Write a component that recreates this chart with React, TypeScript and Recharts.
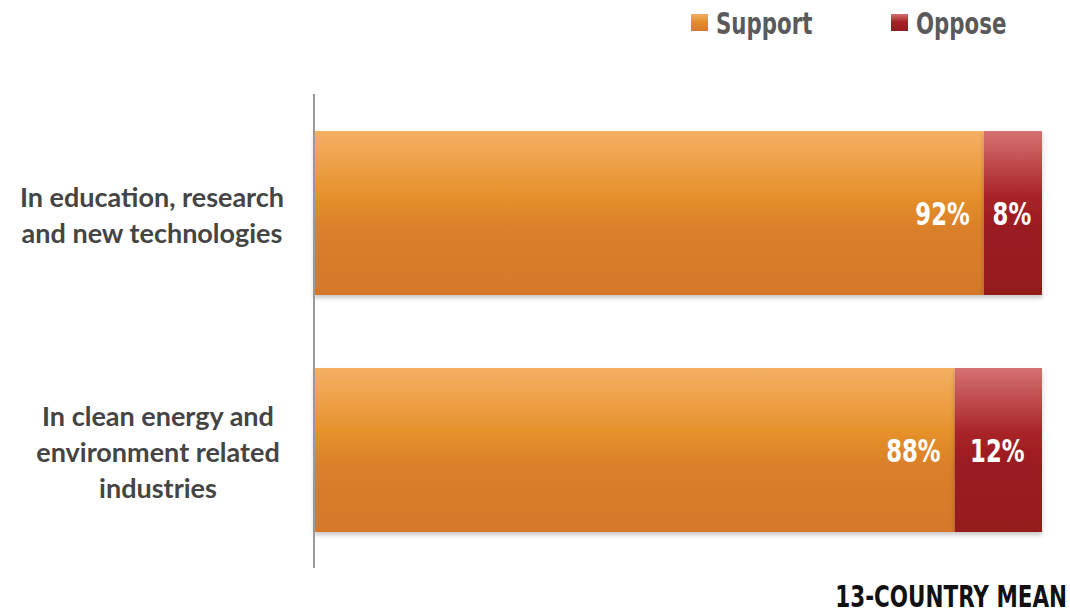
import { Bar, BarChart, LabelList, XAxis, YAxis } from "recharts";

const categories = [
  ["In education, research", "and new technologies"],
  ["In clean energy and", "environment related", "industries"],
];
const support = [92, 88];
const oppose = [8, 12];
const seriesNames = ["Support", "Oppose"];

const data = categories.map((lines, i) => ({
  name: lines.join("\n"),
  support: support[i],
  oppose: oppose[i],
}));

const narrow = "'DejaVu Sans Condensed', 'DejaVu Sans', sans-serif";

const CategoryTick = (props: any) => {
  const { y, payload, index } = props;
  const lines: string[] = String(payload.value).split("\n");
  const lh = 36;
  const startY = y - ((lines.length - 1) * lh) / 2 + 12;
  const cx = index === 0 ? 152 : 158;
  return (
    <text textAnchor="middle" fill="#454545" fontFamily="Lato" fontWeight={700} fontSize={27}>
      {lines.map((l, i) => (
        <tspan key={i} x={cx} y={startY + i * lh}>
          {l}
        </tspan>
      ))}
    </text>
  );
};

const SquashText = ({ x, y, anchor, sx, children, ...rest }: any) => (
  <g transform={`translate(${x},${y}) scale(${sx},1)`}>
    <text x={0} y={0} textAnchor={anchor} {...rest}>
      {children}
    </text>
  </g>
);

const SupportLabel = (props: any) => {
  const { x, y, width, height, value } = props;
  return (
    <SquashText x={x + width - 14} y={y + height / 2 + 12} anchor="end" sx={0.79} fill="#fff" fontFamily={narrow} fontWeight={700} fontSize={32}>
      {value}%
    </SquashText>
  );
};

const OpposeLabel = (props: any) => {
  const { x, y, width, height, value } = props;
  return (
    <SquashText x={x + width / 2 - 1} y={y + height / 2 + 12} anchor="middle" sx={0.79} fill="#fff" fontFamily={narrow} fontWeight={700} fontSize={32}>
      {value}%
    </SquashText>
  );
};

const legendX = [690, 890];

const TopLegend = () => (
  <svg width={1070} height={60} style={{ position: "absolute", left: 0, top: 0 }}>
    <defs>
      <linearGradient id="gSupportL" x1="0" y1="0" x2="0" y2="1">
        <stop offset="0" stopColor="#F4AE62" />
        <stop offset="0.45" stopColor="#E38E2A" />
        <stop offset="1" stopColor="#D67A2A" />
      </linearGradient>
      <linearGradient id="gOpposeL" x1="0" y1="0" x2="0" y2="1">
        <stop offset="0" stopColor="#D57070" />
        <stop offset="0.45" stopColor="#A82226" />
        <stop offset="1" stopColor="#951A1F" />
      </linearGradient>
    </defs>
    {seriesNames.map((name, i) => (
      <g key={name}>
        <rect x={legendX[i] + 1} y={14} width={17} height={17} fill={i === 0 ? "url(#gSupportL)" : "url(#gOpposeL)"} />
        <SquashText x={legendX[i] + 26} y={34} anchor="start" sx={0.79} fill="#5a5a5a" fontFamily={narrow} fontWeight={700} fontSize={30}>
          {name}
        </SquashText>
      </g>
    ))}
  </svg>
);

export default function App() {
  return (
    <div style={{ position: "absolute", left: 0, top: 0, width: 1070, height: 611, background: "#fff" }}>
      <BarChart
        width={1070}
        height={611}
        data={data}
        layout="vertical"
        margin={{ top: 94, right: 28, bottom: 43, left: 0 }}
        barSize={164}
      >
        <defs>
          <linearGradient id="gSupport" x1="0" y1="0" x2="0" y2="1">
            <stop offset="0" stopColor="#F5B064" />
            <stop offset="0.4" stopColor="#E5902A" />
            <stop offset="0.6" stopColor="#DA7F2A" />
            <stop offset="1" stopColor="#D6782A" />
          </linearGradient>
          <linearGradient id="gOppose" x1="0" y1="0" x2="0" y2="1">
            <stop offset="0" stopColor="#D67272" />
            <stop offset="0.4" stopColor="#A82327" />
            <stop offset="0.6" stopColor="#991B20" />
            <stop offset="1" stopColor="#951A1F" />
          </linearGradient>
          <filter id="shadow" x="-5%" y="-5%" width="110%" height="120%">
            <feDropShadow dx="0" dy="3" stdDeviation="2" floodColor="#000" floodOpacity="0.22" />
          </filter>
        </defs>
        <XAxis type="number" domain={[0, 100]} hide />
        <YAxis
          type="category"
          dataKey="name"
          width={314}
          tickLine={false}
          axisLine={{ stroke: "#9a9a9a", strokeWidth: 2 }}
          tick={<CategoryTick />}
          interval={0}
        />
        <Bar dataKey="support" stackId="a" fill="url(#gSupport)" isAnimationActive={false} style={{ filter: "url(#shadow)" }}>
          <LabelList dataKey="support" content={<SupportLabel />} />
        </Bar>
        <Bar dataKey="oppose" stackId="a" fill="url(#gOppose)" isAnimationActive={false} style={{ filter: "url(#shadow)" }}>
          <LabelList dataKey="oppose" content={<OpposeLabel />} />
        </Bar>
      </BarChart>
      <TopLegend />
      <svg width={1070} height={40} style={{ position: "absolute", left: 0, top: 570 }}>
        <SquashText x={1067} y={37} anchor="end" sx={0.77} fill="#111" fontFamily={narrow} fontWeight={700} fontSize={31}>
          13-COUNTRY MEAN
        </SquashText>
      </svg>
    </div>
  );
}
